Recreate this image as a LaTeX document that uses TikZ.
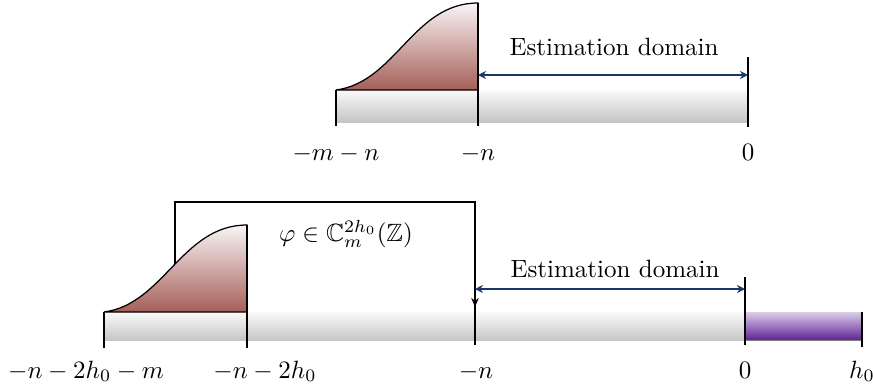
\documentclass[tikz,border=0pt]{standalone}
\usepackage{amssymb}
\usetikzlibrary{arrows.meta}
\definecolor{navy}{RGB}{25,55,105}
\definecolor{redlo}{RGB}{165,95,88}
\definecolor{redhi}{RGB}{250,244,246}
\definecolor{purlo}{RGB}{95,35,150}
\definecolor{purhi}{RGB}{218,205,232}
\tikzset{
  barshade/.style={top color=gray!4, bottom color=gray!45, draw=none},
  purshade/.style={top color=purhi, bottom color=purlo, draw=none},
  curveshade/.style={top color=redhi, bottom color=redlo, draw=black, line width=0.5pt},
  tickline/.style={draw=black, line width=0.5pt},
  domarrow/.style={draw=navy, line width=0.7pt, {Stealth[length=3.2pt,width=3.2pt]}-{Stealth[length=3.2pt,width=3.2pt]}},
  bracketline/.style={draw=black, line width=0.9pt, -{Stealth[length=3.6pt,width=3pt]}},
  lbl/.style={anchor=base, inner sep=0pt, font=\normalsize},
}
\begin{document}
\begin{tikzpicture}[x=0.4pt, y=-0.4pt]
\useasboundingbox (0,0) rectangle (873,388);

% ---------- top diagram ----------
\coordinate (tA) at (336,90);
\coordinate (tB) at (478,90);
\coordinate (tC) at (748,90);
\fill[barshade] (336,90) rectangle (748,122);
\path[curveshade] (tA) .. controls (396,82) and (413,3) .. (478,3) -- (tB) -- cycle;
\draw[tickline] (336,90) -- (336,126);
\draw[tickline] (478,3) -- (478,126);
\draw[tickline] (748,57) -- (748,127);
\coordinate (tL) at (478,75);
\coordinate (tR) at (748,75);
\draw[domarrow] (tL) -- (tR);
\node[lbl] (test) at (614,55) {Estimation domain};
\node[lbl] (tl1) at (336,160) {$-m-n$};
\node[lbl] (tl2) at (478,160) {$-n$};
\node[lbl] (tl3) at (748,160) {$0$};

% ---------- bottom diagram ----------
\coordinate (bs) at (175,290);
\coordinate (bt) at (475,307);
\draw[bracketline] (bs) -- (175,202) -- (475,202) -- (bt);
\fill[barshade] (104,312) rectangle (745,340);
\fill[purshade] (745,312) rectangle (862,340);
\draw[gray, line width=0.4pt] (745,340) -- (862,340);
\coordinate (bA) at (104,312);
\coordinate (bB) at (247,312);
\path[curveshade] (bA) .. controls (164,304) and (182,225) .. (247,225) -- (bB) -- cycle;
\draw[tickline] (104,312) -- (104,348);
\draw[tickline] (247,225) -- (247,348);
\draw[tickline] (475,277) -- (475,345);
\draw[tickline] (745,277) -- (745,345);
\draw[tickline] (862,312) -- (862,347);
\coordinate (bL) at (475,289);
\coordinate (bR) at (745,289);
\draw[domarrow] (bL) -- (bR);
\node[lbl] (best) at (615,277) {Estimation domain};
\node[inner sep=0pt] (phi) at (346,234) {$\varphi\in\mathbb{C}_m^{2h_0}(\mathbb{Z})$};
\node[lbl] (bl1) at (86,378) {$-n-2h_0-m$};
\node[lbl] (bl2) at (265,378) {$-n-2h_0$};
\node[lbl] (bl3) at (476,378) {$-n$};
\node[lbl] (bl4) at (745,378) {$0$};
\node[lbl] (bl5) at (862,378) {$h_0$};
\end{tikzpicture}
\end{document}
